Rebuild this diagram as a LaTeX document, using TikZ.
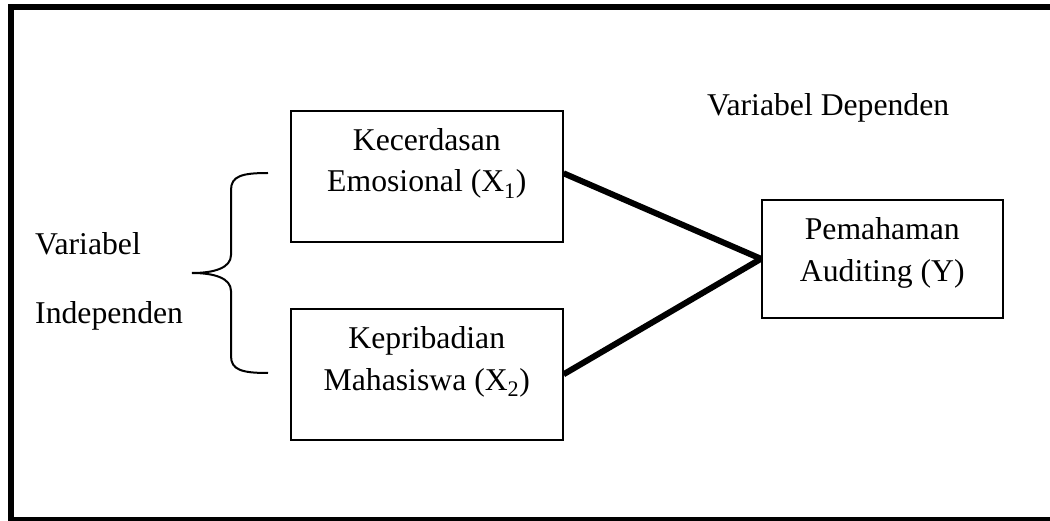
\documentclass[tikz,border=0pt]{standalone}
\usepackage{fontspec}
\setmainfont{Liberation Serif}
\begin{document}
\begin{tikzpicture}[x=1pt,y=-1pt,
  box/.style={draw=black, line width=1.6pt, minimum width=272pt, minimum height=131pt, inner sep=0pt, anchor=north west},
  ybox/.style={draw=black, line width=1.6pt, minimum width=241pt, minimum height=118pt, inner sep=0pt, anchor=north west},
  lbl/.style={inner sep=0pt, anchor=base, font=\fontsize{31.7}{38}\selectfont},
  lbll/.style={inner sep=0pt, anchor=base west, font=\fontsize{31.7}{38}\selectfont},
  conn/.style={line width=6pt},
  bracestyle/.style={line width=2pt}]
\useasboundingbox (0,0) rectangle (1050,521);
% outer frame (right side runs beyond the picture)
\draw[line width=6pt] (11,7) rectangle (1075,520);
% boxes
\node[box] (b1) at (290,110) {};
\node[box] (b2) at (290,308) {};
\node[ybox] (y) at (761,199) {};
% box texts
\node[lbl] (t1a) at ([yshift=-41pt]b1.north) {Kecerdasan};
\node[lbl] (t1b) at ([yshift=-82pt]b1.north) {Emosional (X\textsubscript{1})};
\node[lbl] (t2a) at ([yshift=-41pt]b2.north) {Kepribadian};
\node[lbl] (t2b) at ([yshift=-82pt]b2.north) {Mahasiswa (X\textsubscript{2})};
\node[lbl] (tya) at ([yshift=-41pt]y.north) {Pemahaman};
\node[lbl] (tyb) at ([yshift=-83pt]y.north) {Auditing (Y)};
% side labels
\node[lbll] (v1) at (35,255) {Variabel};
\node[lbll] (v2) at (35,324) {Independen};
\node[lbll] (vd) at (707,116) {Variabel Dependen};
% connectors
\coordinate (b1r) at ([yshift=3pt]b1.east);
\draw[conn] (b1r) -- (y.west);
\draw[conn] (b2.east) -- (y.west);
% brace
\coordinate (bt) at (268,173);
\coordinate (bm) at (192,273);
\coordinate (bb) at (268,373);
\draw[bracestyle] (bt) .. controls (242,173) and (231,176) .. (231,190)
  -- (231,255) .. controls (231,268) and (214,273) .. (bm)
  .. controls (214,273) and (231,278) .. (231,291)
  -- (231,356) .. controls (231,370) and (242,373) .. (bb);
\end{tikzpicture}
\end{document}
